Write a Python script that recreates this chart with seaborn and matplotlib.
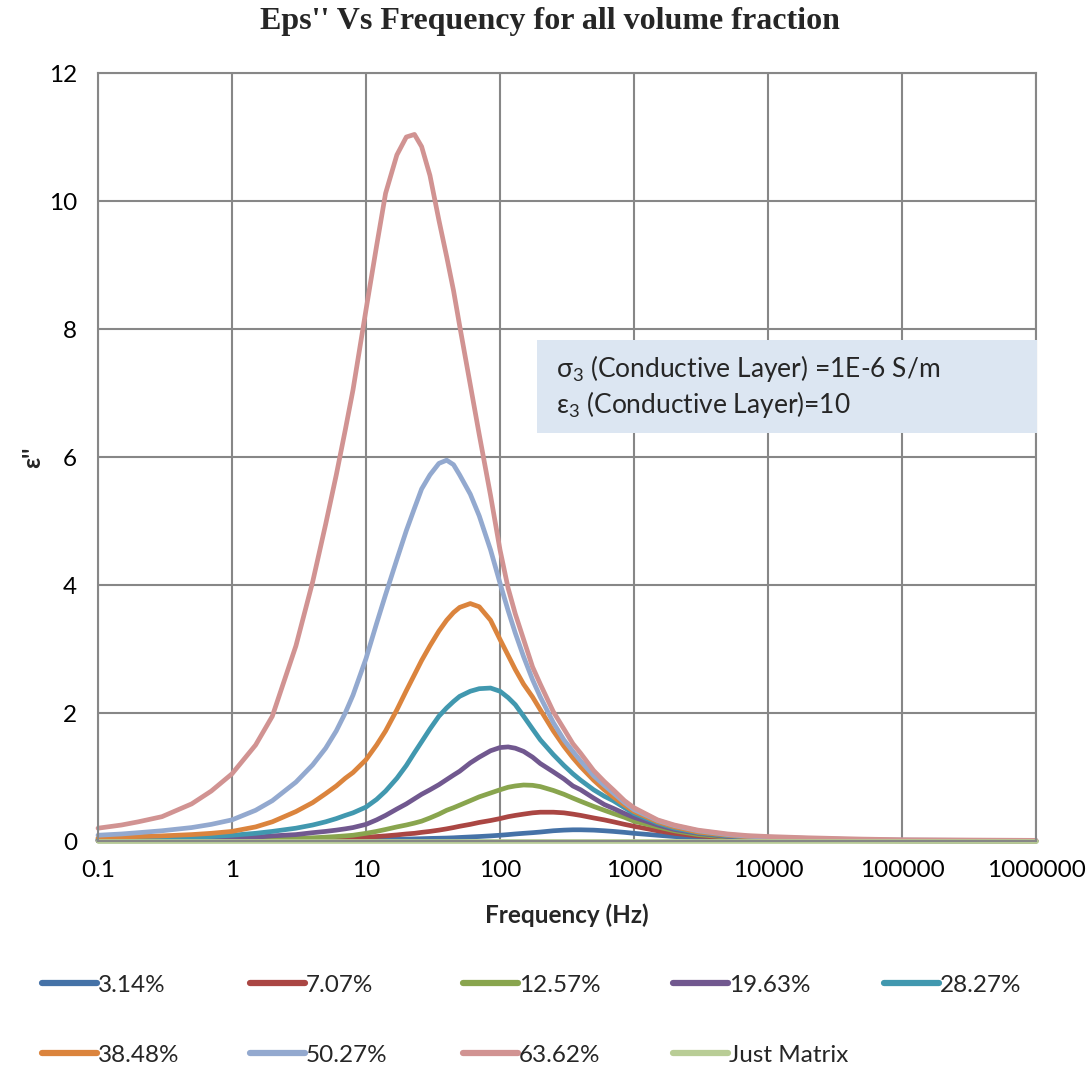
import numpy as np
import pandas as pd
import matplotlib
matplotlib.use("Agg")
import matplotlib.pyplot as plt
from matplotlib.patches import Rectangle
import seaborn as sns

# ---------------- data ----------------
freq = [0.1, 0.15, 0.2, 0.3, 0.5, 0.7, 1, 1.5, 2, 3, 4, 5, 6, 7, 8, 10, 12, 14,
        17, 20, 23, 26, 30, 35, 40, 45, 50, 60, 70, 85, 100, 115, 130, 150, 175,
        200, 250, 300, 350, 400, 500, 600, 700, 850, 1000, 1500, 2000, 3000,
        5000, 7000, 10000, 20000, 50000, 100000, 1000000]

vf_314 = [0.002, 0.002, 0.002, 0.003, 0.003, 0.004, 0.005, 0.006, 0.007, 0.010,
          0.011, 0.012, 0.013, 0.015, 0.017, 0.020, 0.022, 0.024, 0.027, 0.030,
          0.033, 0.036, 0.040, 0.043, 0.046, 0.050, 0.055, 0.063, 0.070, 0.080,
          0.090, 0.100, 0.110, 0.120, 0.130, 0.140, 0.160, 0.170, 0.175, 0.175,
          0.170, 0.160, 0.150, 0.135, 0.120, 0.090, 0.070, 0.050, 0.030, 0.022,
          0.015, 0.008, 0.004, 0.002, 0.0]
vf_707 = [0.005, 0.005, 0.005, 0.006, 0.008, 0.009, 0.010, 0.013, 0.015, 0.020,
          0.025, 0.030, 0.035, 0.040, 0.045, 0.060, 0.070, 0.080, 0.095, 0.110,
          0.120, 0.135, 0.150, 0.170, 0.190, 0.210, 0.230, 0.260, 0.290, 0.320,
          0.350, 0.380, 0.400, 0.420, 0.440, 0.450, 0.450, 0.440, 0.420, 0.400,
          0.360, 0.330, 0.300, 0.260, 0.230, 0.160, 0.120, 0.080, 0.050, 0.035,
          0.020, 0.010, 0.005, 0.003, 0.0]
vf_1257 = [0.010, 0.010, 0.010, 0.012, 0.015, 0.018, 0.020, 0.025, 0.030, 0.040,
           0.050, 0.060, 0.070, 0.080, 0.090, 0.120, 0.150, 0.180, 0.220, 0.250,
           0.280, 0.310, 0.360, 0.420, 0.480, 0.520, 0.560, 0.630, 0.690, 0.750,
           0.800, 0.840, 0.860, 0.875, 0.870, 0.850, 0.790, 0.730, 0.670, 0.620,
           0.540, 0.480, 0.430, 0.370, 0.310, 0.220, 0.160, 0.100, 0.060, 0.045,
           0.030, 0.015, 0.007, 0.004, 0.0]
vf_1963 = [0.020, 0.020, 0.020, 0.025, 0.030, 0.040, 0.050, 0.060, 0.080, 0.100,
           0.130, 0.150, 0.170, 0.190, 0.210, 0.260, 0.330, 0.400, 0.500, 0.580,
           0.660, 0.730, 0.800, 0.880, 0.960, 1.030, 1.090, 1.220, 1.310, 1.410,
           1.460, 1.470, 1.450, 1.400, 1.310, 1.210, 1.080, 0.970, 0.860, 0.800,
           0.670, 0.570, 0.510, 0.430, 0.370, 0.250, 0.180, 0.120, 0.070, 0.050,
           0.030, 0.015, 0.008, 0.005, 0.0]
vf_2827 = [0.030, 0.035, 0.040, 0.050, 0.060, 0.070, 0.090, 0.120, 0.150, 0.200,
           0.250, 0.300, 0.350, 0.400, 0.440, 0.530, 0.650, 0.780, 0.980, 1.180,
           1.380, 1.550, 1.750, 1.950, 2.080, 2.180, 2.260, 2.340, 2.380, 2.390,
           2.340, 2.240, 2.130, 1.950, 1.750, 1.580, 1.350, 1.180, 1.050, 0.950,
           0.800, 0.700, 0.630, 0.520, 0.430, 0.280, 0.200, 0.130, 0.080, 0.060,
           0.040, 0.025, 0.010, 0.005, 0.0]
vf_3848 = [0.050, 0.060, 0.070, 0.080, 0.100, 0.120, 0.150, 0.220, 0.300, 0.460,
           0.600, 0.740, 0.860, 0.980, 1.070, 1.270, 1.500, 1.720, 2.050, 2.350,
           2.600, 2.820, 3.050, 3.280, 3.450, 3.570, 3.650, 3.710, 3.660, 3.450,
           3.150, 2.900, 2.680, 2.450, 2.250, 2.050, 1.720, 1.480, 1.300, 1.160,
           0.950, 0.800, 0.690, 0.560, 0.460, 0.300, 0.220, 0.140, 0.090, 0.065,
           0.050, 0.030, 0.015, 0.010, 0.0]
vf_5027 = [0.090, 0.110, 0.130, 0.160, 0.210, 0.260, 0.330, 0.480, 0.630, 0.920,
           1.190, 1.450, 1.720, 2.000, 2.280, 2.850, 3.400, 3.850, 4.400, 4.850,
           5.200, 5.500, 5.720, 5.900, 5.950, 5.880, 5.720, 5.420, 5.080, 4.550,
           4.030, 3.600, 3.250, 2.880, 2.520, 2.250, 1.850, 1.580, 1.400, 1.250,
           1.020, 0.870, 0.750, 0.600, 0.490, 0.320, 0.240, 0.160, 0.100, 0.075,
           0.060, 0.040, 0.020, 0.015, 0.005]
vf_6362 = [0.20, 0.25, 0.30, 0.38, 0.58, 0.78, 1.05, 1.50, 1.95, 3.05,
           4.05, 4.95, 5.72, 6.42, 7.05, 8.30, 9.30, 10.12, 10.72, 11.00,
           11.04, 10.85, 10.40, 9.70, 9.13, 8.60, 8.05, 7.13, 6.35, 5.40,
           4.55, 3.95, 3.55, 3.15, 2.72, 2.45, 2.02, 1.75, 1.52, 1.37,
           1.10, 0.93, 0.80, 0.63, 0.52, 0.33, 0.25, 0.17, 0.11, 0.085,
           0.07, 0.05, 0.03, 0.02, 0.01]
just_matrix = [0.0, 0.0, 0.0, 0.0, 0.0, 0.0, 0.0, 0.0, 0.0, 0.0,
               0.0, 0.0, 0.0, 0.0, 0.0, 0.0, 0.0, 0.0, 0.0, 0.0,
               0.0, 0.0, 0.0, 0.0, 0.0, 0.0, 0.0, 0.0, 0.0, 0.0,
               0.0, 0.0, 0.0, 0.0, 0.0, 0.0, 0.0, 0.0, 0.0, 0.0,
               0.0, 0.0, 0.0, 0.0, 0.0, 0.0, 0.0, 0.0, 0.0, 0.0,
               0.0, 0.0, 0.0, 0.0, 0.0]

series_names = ["3.14%", "7.07%", "12.57%", "19.63%", "28.27%", "38.48%",
                "50.27%", "63.62%", "Just Matrix"]
series_values = [vf_314, vf_707, vf_1257, vf_1963, vf_2827, vf_3848,
                 vf_5027, vf_6362, just_matrix]
series_colors = ["#4572A7", "#AA4643", "#89A54E", "#71588F", "#4198AF",
                 "#DB843D", "#93A9CF", "#D19392", "#B9CD96"]

x_ticks = [0.1, 1, 10, 100, 1000, 10000, 100000, 1000000]
x_tick_labels = ["0.1", "1", "10", "100", "1000", "10000", "100000", "1000000"]
y_ticks = [0, 2, 4, 6, 8, 10, 12]

# ---------------- build long table ----------------
rows = []
for name, vals in zip(series_names, series_values):
    assert len(vals) == len(freq), name
    for f, v in zip(freq, vals):
        rows.append({"Frequency": f, "eps": v, "Series": name})
df = pd.DataFrame(rows)

# ---------------- style ----------------
sns.set_style("white")
plt.rcParams["font.family"] = ["Lato", "DejaVu Sans"]
plt.rcParams["mathtext.fontset"] = "custom"
plt.rcParams["mathtext.rm"] = "Lato"
plt.rcParams["mathtext.it"] = "Lato"
plt.rcParams["mathtext.bf"] = "Lato:bold"

W, H = 1090, 1069
fig = plt.figure(figsize=(W / 100, H / 100), dpi=100)
ax = fig.add_axes([98 / W, (H - 841) / H, 938 / W, 768 / H])

sns.lineplot(data=df, x="Frequency", y="eps", hue="Series",
             hue_order=series_names, palette=series_colors,
             estimator=None, sort=True, linewidth=3.4, ax=ax, legend=True)
for ln in ax.get_lines():
    ln.set_clip_on(False)
    ln.set_solid_joinstyle("round")
    ln.set_solid_capstyle("round")

ax.set_xscale("log")
ax.set_xlim(0.1, 1000000)
ax.set_ylim(0, 12)
ax.set_xticks(x_ticks)
ax.set_xticklabels(x_tick_labels)
ax.xaxis.set_minor_locator(matplotlib.ticker.NullLocator())
ax.set_yticks(y_ticks)
ax.set_yticklabels([str(t) for t in y_ticks])

grid_c = "#878787"
ax.grid(True, which="major", color=grid_c, linewidth=1.5)
ax.set_axisbelow(True)
for s in ax.spines.values():
    s.set_color(grid_c)
    s.set_linewidth(1.5)
ax.tick_params(axis="both", which="major", direction="out", length=6,
               width=1.5, color=grid_c, labelsize=17.5, labelcolor="black")
ax.tick_params(axis="y", pad=9)
ax.tick_params(axis="x", pad=8)

ax.set_xlabel("Frequency (Hz)", fontsize=17.5, fontweight="bold")
ax.xaxis.set_label_coords(0.5, -(903 - 841) / 768)
ax.set_ylabel("ε''", fontsize=17.5, fontweight="bold")
ax.yaxis.set_label_coords(-(98 - 44) / 938, 0.5)

fig.text(550 / W, 1 - 21 / H, "Eps'' Vs Frequency for all volume fraction",
         ha="center", va="center", fontsize=23, fontweight="bold",
         family=["Liberation Serif", "DejaVu Serif"])

# annotation box
fig.patches.append(Rectangle((537 / W, 1 - 433 / H), 500 / W, 93 / H,
                             transform=fig.transFigure, facecolor="#DCE6F2",
                             edgecolor="none", zorder=3))
fig.text(556 / W, 1 - 369 / H, r"σ$_3$ (Conductive Layer) =1E-6 S/m",
         ha="left", va="center", fontsize=19, zorder=4)
fig.text(556 / W, 1 - 404 / H, r"ε$_3$ (Conductive Layer)=10",
         ha="left", va="center", fontsize=19, zorder=4)

# legend: each entry placed at its own slot, as in the reference
handles, labels = ax.get_legend_handles_labels()
ax.get_legend().remove()
for h in handles:
    h.set_linewidth(4.5)
    h.set_solid_capstyle("round")
col_x = [42, 250, 463, 673, 884]
row_y = [985, 1055]
for i, (h, lab) in enumerate(zip(handles, labels)):
    r, c = divmod(i, 5)
    fig.legend([h], [lab], loc="center left",
               bbox_to_anchor=(col_x[c] / W, 1 - row_y[r] / H),
               frameon=False, fontsize=17.5, handlelength=2.25,
               handletextpad=0.05, borderaxespad=0, borderpad=0)

fig.savefig("out.png", dpi=100)
